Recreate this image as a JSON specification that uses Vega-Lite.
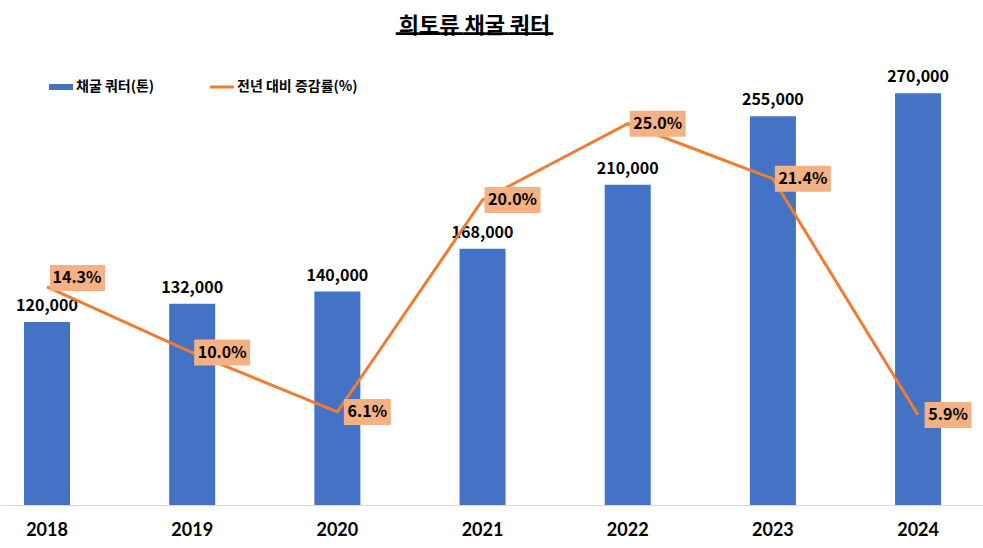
{
  "$schema": "https://vega.github.io/schema/vega-lite/v6.json",
  "width": 983,
  "height": 457.5,
  "autosize": {"type": "none"},
  "padding": {"left": 0, "right": 0, "top": 47.5, "bottom": 43},
  "background": "white",
  "config": {"view": {"stroke": null}, "font": "Noto Sans CJK KR"},
  "title": {
    "text": "희토류 채굴 쿼터",
    "subtitle": "▁▁▁▁▁▁▁",
    "font": "Noto Sans CJK KR",
    "fontSize": 22,
    "fontWeight": "bold",
    "color": "#000000",
    "subtitleFont": "Noto Sans CJK KR",
    "subtitleFontSize": 22.5,
    "subtitleColor": "#000000",
    "subtitlePadding": -24,
    "frame": "group",
    "anchor": "middle",
    "dx": -17,
    "offset": 9
  },
  "data": {
    "values": [
      {"year": "2018", "quota": 120000, "rate": 0.143},
      {"year": "2019", "quota": 132000, "rate": 0.100},
      {"year": "2020", "quota": 140000, "rate": 0.061},
      {"year": "2021", "quota": 168000, "rate": 0.200},
      {"year": "2022", "quota": 210000, "rate": 0.250},
      {"year": "2023", "quota": 255000, "rate": 0.214},
      {"year": "2024", "quota": 270000, "rate": 0.059}
    ]
  },
  "encoding": {
    "x": {
      "field": "year",
      "type": "nominal",
      "scale": {"paddingInner": 0.683, "paddingOuter": 0.227, "align": 0.364},
      "axis": {
        "title": null,
        "labelAngle": 0,
        "ticks": false,
        "grid": false,
        "domainColor": "#D9D9D9",
        "domainWidth": 1,
        "labelFont": "Lato",
        "labelFontSize": 18,
        "labelFontWeight": "bold",
        "labelColor": "#000000",
        "labelPadding": 16
      }
    }
  },
  "layer": [
    {
      "encoding": {
        "y": {"field": "quota", "type": "quantitative", "scale": {"domain": [0, 300000]}, "axis": null}
      },
      "layer": [
        {
          "mark": {"type": "bar"},
          "encoding": {
            "color": {
              "datum": "채굴 쿼터(톤)",
              "type": "nominal",
              "scale": {"domain": ["채굴 쿼터(톤)", "전년 대비 증감률(%)"], "range": ["#4472C4", "#ED7D31"]},
              "legend": {
                "title": null,
                "orient": "none",
                "direction": "horizontal",
                "legendX": 49,
                "legendY": 27.5,
                "padding": 0,
                "symbolType": "M-1,-0.25H1V0.25H-1Z",
                "symbolSize": 576,
                "symbolStrokeWidth": 0,
                "symbolOpacity": 1,
                "labelFont": "Noto Sans CJK KR",
                "labelFontSize": 14,
                "labelFontWeight": "bold",
                "labelColor": "#000000",
                "labelOffset": 3,
                "labelLimit": 300,
                "columnPadding": 55,
                "encode": {
                  "symbols": {
                    "update": {
                      "shape": {"signal": "datum.value === '채굴 쿼터(톤)' ? 'M-1,-0.25H1V0.25H-1Z' : 'M-1,-0.125H1V0.125H-1Z'"},
                      "fill": {"signal": "scale('color', datum.value)"},
                      "strokeWidth": {"value": 0},
                      "opacity": {"value": 1}
                    }
                  }
                }
              }
            }
          }
        },
        {
          "mark": {"type": "text", "fontSize": 16, "fontWeight": "bold", "color": "#000000", "baseline": "alphabetic", "dy": -11},
          "encoding": {"text": {"field": "quota", "type": "quantitative", "format": ","}}
        }
      ]
    },
    {
      "encoding": {
        "y": {"field": "rate", "type": "quantitative", "scale": {"domain": [0, 0.3]}, "axis": null}
      },
      "layer": [
        {
          "mark": {"type": "line", "strokeWidth": 3},
          "encoding": {"color": {"datum": "전년 대비 증감률(%)", "type": "nominal"}}
        },
        {
          "transform": [{"filter": "datum.year !== '2018'"}],
          "mark": {"type": "point", "filled": true, "fill": "#F4B183", "opacity": 1, "size": 400, "strokeWidth": 0},
          "encoding": {
            "shape": {"condition": {"test": "datum.rate < 0.1", "value": "M0.65,-1.3H5.35V1.3H0.65Z"}, "value": "M0.2,-1.3H5.8V1.3H0.2Z"}
          }
        },
        {
          "transform": [{"filter": "datum.year === '2018'"}],
          "mark": {"type": "point", "filled": true, "fill": "#F4B183", "opacity": 1, "size": 400, "strokeWidth": 0, "shape": "M0.3,-2.2H5.8V0.4H0.3Z"}
        },
        {
          "transform": [{"filter": "datum.year !== '2018'"}],
          "mark": {"type": "text", "fontSize": 16, "fontWeight": "bold", "color": "#000000", "align": "center", "baseline": "middle", "dx": 30},
          "encoding": {
            "text": {"field": "rate", "type": "quantitative", "format": ".1%"}
          }
        },
        {
          "transform": [{"filter": "datum.year === '2018'"}],
          "mark": {"type": "text", "fontSize": 16, "fontWeight": "bold", "color": "#000000", "align": "center", "baseline": "middle", "dx": 30, "dy": -9},
          "encoding": {
            "text": {"field": "rate", "type": "quantitative", "format": ".1%"}
          }
        }
      ]
    }
  ],
  "resolve": {"scale": {"y": "independent"}}
}
